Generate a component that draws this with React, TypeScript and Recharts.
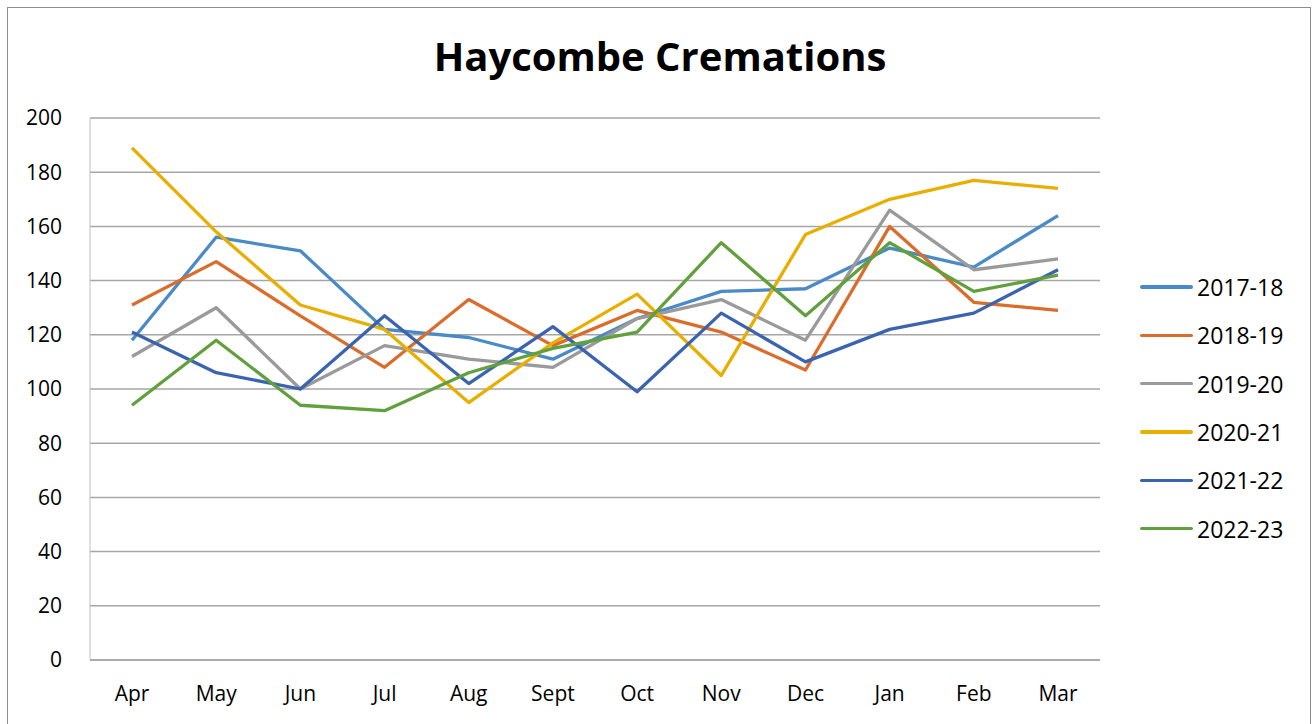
import { LineChart, Line, XAxis, YAxis, CartesianGrid } from 'recharts';

const months = ['Apr', 'May', 'Jun', 'Jul', 'Aug', 'Sept', 'Oct', 'Nov', 'Dec', 'Jan', 'Feb', 'Mar'];

const y2017 = [118, 156, 151, 122, 119, 111, 126, 136, 137, 152, 145, 164];
const y2018 = [131, 147, 127, 108, 133, 116, 129, 121, 107, 160, 132, 129];
const y2019 = [112, 130, 100, 116, 111, 108, 126, 133, 118, 166, 144, 148];
const y2020 = [189, 158, 131, 122, 95, 117, 135, 105, 157, 170, 177, 174];
const y2021 = [121, 106, 100, 127, 102, 123, 99, 128, 110, 122, 128, 144];
const y2022 = [94, 118, 94, 92, 106, 115, 121, 154, 127, 154, 136, 142];

const yTicks = [0, 20, 40, 60, 80, 100, 120, 140, 160, 180, 200];

const series = [
  { key: '2017-18', values: y2017, color: '#4A8AC6' },
  { key: '2018-19', values: y2018, color: '#DA6D2C' },
  { key: '2019-20', values: y2019, color: '#9A9A9A' },
  { key: '2020-21', values: y2020, color: '#E8AE00' },
  { key: '2021-22', values: y2021, color: '#3B64B0' },
  { key: '2022-23', values: y2022, color: '#62A03D' },
];

const data = months.map((m, i) => {
  const row: any = { month: m };
  series.forEach((s) => {
    row[s.key] = s.values[i];
  });
  return row;
});

const font = '"Open Sans", sans-serif';

// legend drawn beside the chart so it doesn't eat plot width
const LegendBox = () => (
  <div style={{ position: 'absolute', left: 1140, top: 263, fontFamily: font }}>
    {series.map((s) => (
      <div key={s.key} style={{ display: 'flex', alignItems: 'center', height: 48.3 }}>
        <div style={{ width: 53, height: 3.5, background: s.color, borderRadius: 2, marginRight: 4 }} />
        <span style={{ fontSize: 23, color: '#000' }}>{s.key}</span>
      </div>
    ))}
  </div>
);

export default function App() {
  return (
    <div style={{ position: 'absolute', left: 0, top: 0, width: 1314, height: 724, background: '#fff', overflow: 'hidden' }}>
      <div style={{ position: 'absolute', left: 7, top: 7, width: 1302, height: 740, border: '1px solid #8c8c8c' }} />
      <div
        style={{
          position: 'absolute',
          left: 0,
          top: 28,
          width: 1320,
          textAlign: 'center',
          fontFamily: font,
          fontWeight: 700,
          fontSize: 40,
          color: '#000',
        }}
      >
        Haycombe Cremations
      </div>
      <LineChart
        width={1314}
        height={724}
        data={data}
        margin={{ top: 118, right: 214, bottom: 0, left: 30 }}
        style={{ position: 'absolute', left: 0, top: 0 }}
      >
        <CartesianGrid vertical={false} stroke="#A6A6A6" strokeWidth={1.5} />
        <XAxis
          dataKey="month"
          height={64}
          padding={{ left: 42, right: 42 }}
          axisLine={{ stroke: '#A6A6A6', strokeWidth: 1.5 }}
          tickLine={false}
          tick={{ fill: '#000', fontSize: 21, fontFamily: font }}
          dy={18}
          interval={0}
        />
        <YAxis
          domain={[0, 200]}
          ticks={yTicks}
          width={60}
          axisLine={{ stroke: '#BFBFBF' }}
          tickLine={false}
          tick={{ fill: '#000', fontSize: 21, fontFamily: font }}
          dx={-20}
        />
        {series.map((s) => (
          <Line
            key={s.key}
            type="linear"
            dataKey={s.key}
            stroke={s.color}
            strokeWidth={3.3}
            strokeLinejoin="round"
            dot={false}
            isAnimationActive={false}
          />
        ))}
      </LineChart>
      <LegendBox />
    </div>
  );
}
